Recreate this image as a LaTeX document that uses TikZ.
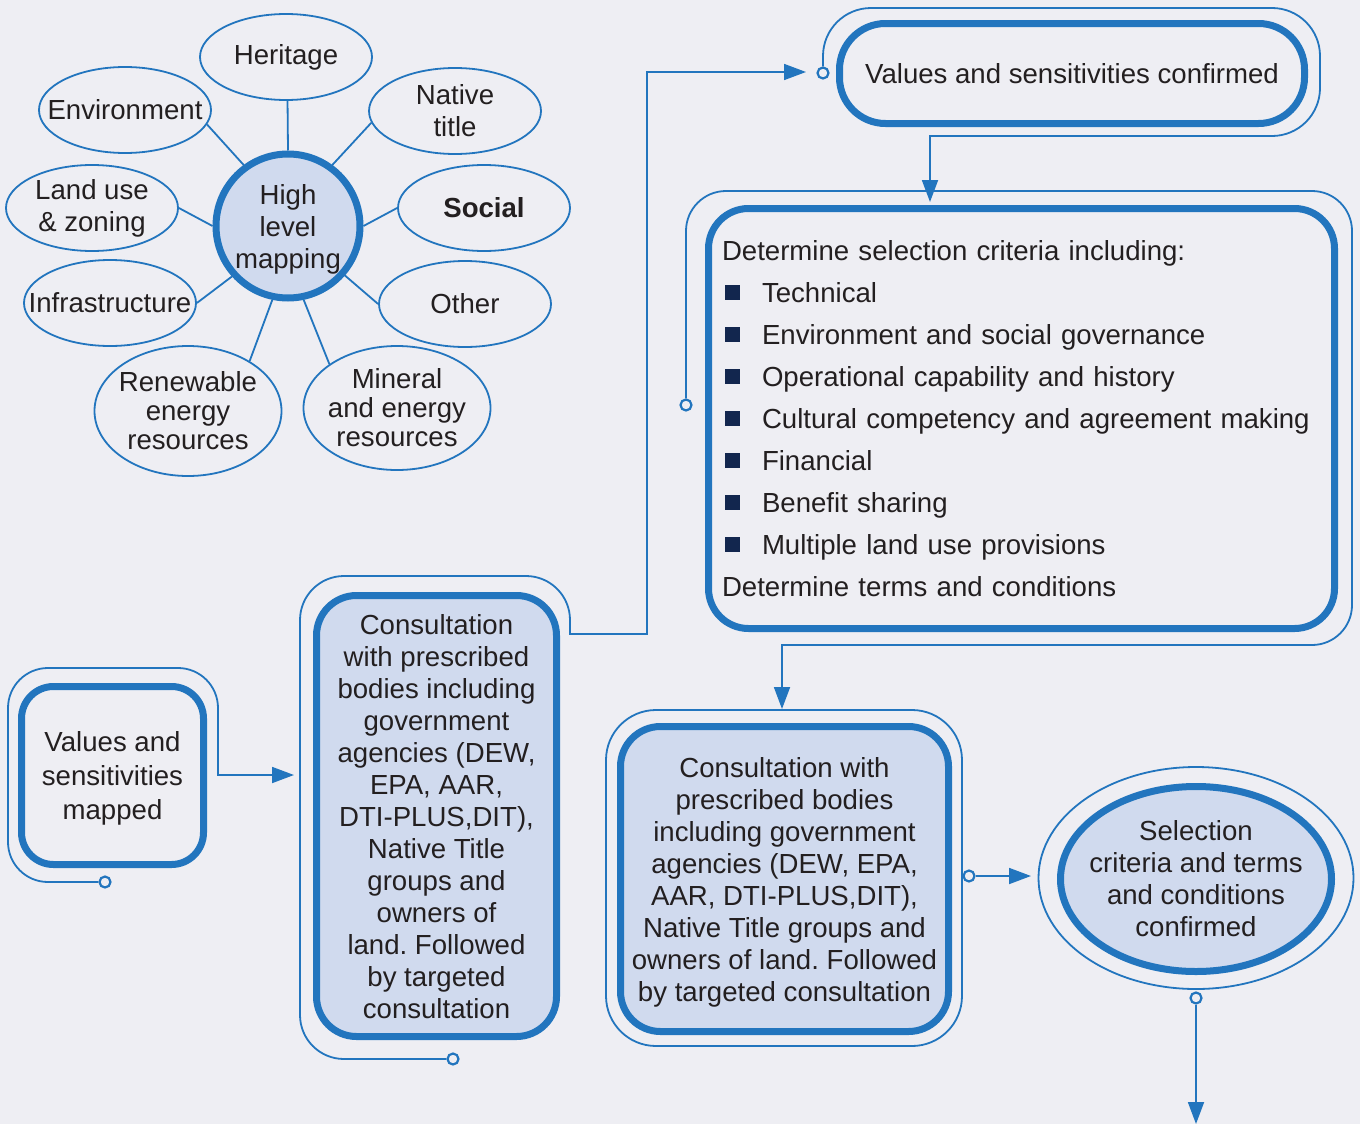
\documentclass[tikz,border=0pt]{standalone}
\usepackage{fontspec}
\setmainfont{Liberation Sans}
\usepackage{xcolor}
\usepackage{tikz}
\usetikzlibrary{arrows.meta,shapes.geometric,positioning}
\definecolor{paper}{RGB}{238,238,243}
\definecolor{brand}{RGB}{34,117,190}
\definecolor{pale}{RGB}{208,218,238}
\definecolor{ink}{RGB}{35,31,32}
\definecolor{navy}{RGB}{18,38,78}
\tikzset{
  every node/.style={text=ink, font=\fontsize{13.8}{16}\selectfont},
  hub/.style={circle, draw=brand, line width=3.5pt, fill=pale, minimum size=72pt, inner sep=0pt, align=center, text depth=0pt},
  leaf/.style={ellipse, draw=brand, line width=0.9pt, inner sep=-30pt, minimum width=86pt, minimum height=43pt, align=center},
  spoke/.style={draw=brand, line width=0.9pt},
  stage/.style={rectangle, rounded corners=20pt, draw=brand, line width=3.5pt, align=center, inner sep=0pt},
  flat/.style={text depth=0pt},
  stageoval/.style={ellipse, draw=brand, line width=3.5pt, inner sep=-20pt, align=center},
  shaded/.style={fill=pale},
  halo/.style={draw=brand, line width=0.9pt},
  port/.style={circle, draw=brand, line width=1.1pt, fill=paper, minimum size=5.5pt, inner sep=0pt},
  wire/.style={draw=brand, line width=0.9pt, -{Triangle[length=11pt,width=8pt]}}
}
\newcommand{\critem}[1]{\makebox[20pt][l]{\hspace{1.5pt}\textcolor{navy}{\rule[1pt]{7.5pt}{7.5pt}}}#1}

\begin{document}
\frenchspacing
\begin{tikzpicture}[x=0.5pt, y=-0.5pt]
  \fill[paper] (0,0) rectangle (1360,1124);
  \useasboundingbox (0,0) rectangle (1360,1124);

  % mind map of values
  \node[hub] (hlm) at (288,226) {High\\level\\mapping};
  \foreach \nm/\cx/\cy/\ha/\la/\txt in {
      heritage/286/57/90/-88/Heritage,
      envir/125/110/126/-10/Environment,
      native/455/111/54/-172/{Native\\title},
      landuse/92/208/180/0/{Land use\\\& zoning},
      social/484/208/0/180/{\textbf{Social}},
      infra/110/303/222/0/Infrastructure,
      other/465/304/-41/180/Other}{
    \node[leaf] (\nm) at (\cx,\cy) {\txt};
    \draw[spoke] (hlm.\ha) -- (\nm.\la);
  }
  \node[leaf, minimum width=93.5pt, minimum height=65pt, font=\fontsize{13.8}{14.5}\selectfont] (renew) at (188,411) {Renewable\\energy\\resources};
  \node[leaf, minimum width=93.5pt, minimum height=62pt, font=\fontsize{13.8}{14.5}\selectfont] (mineral) at (397,408) {Mineral\\and energy\\resources};
  \draw[spoke] (hlm.258) -- (renew.39);
  \draw[spoke] (hlm.282) -- (mineral.147);

  % process stages
  \node[stage, flat, rounded corners=16pt, minimum width=91pt, minimum height=89pt,
        font=\fontsize{13.8}{17}\selectfont] (vsm) at (112.5,775.5) {Values and\\sensitivities\\mapped};
  \node[stage, flat, shaded, minimum width=120pt, minimum height=220.5pt] (cons1) at (436.5,816)
    {Consultation\\with prescribed\\bodies including\\government\\agencies (DEW,\\EPA, AAR,\\DTI-PLUS,DIT),\\Native Title\\groups and\\owners of\\land. Followed\\by targeted\\consultation};
  \node[stage, rounded corners=23pt, minimum width=232.5pt, minimum height=50pt] (vsc) at (1072,73.5)
    {Values and sensitivities confirmed};
  \node[stage, minimum width=313pt, minimum height=210pt, text width=299.5pt, inner xsep=6.75pt,
        align=left, font=\fontsize{13.8}{21}\selectfont] (crit) at (1021.5,418.5)
    {Determine selection criteria including:\\
     \critem{Technical}\\
     \critem{Environment and social governance}\\
     \critem{Operational capability and history}\\
     \critem{Cultural competency and agreement making}\\
     \critem{Financial}\\
     \critem{Benefit sharing}\\
     \critem{Multiple land use provisions}\\
     Determine terms and conditions};
  \node[halo, rectangle, rounded corners=25pt, minimum width=178pt, minimum height=168pt] (cons2halo) at (784,878) {};
  \node[stage, flat, shaded, minimum width=164pt, minimum height=152.5pt] (cons2) at (784.5,879)
    {Consultation with\\prescribed bodies\\including government\\agencies (DEW, EPA,\\AAR, DTI-PLUS,DIT),\\Native Title groups and\\owners of land. Followed\\by targeted consultation};
  \node[halo, ellipse, minimum width=157.5pt, minimum height=111pt] (selhalo) at (1196,878) {};
  \node[stageoval, shaded, minimum width=135.5pt, minimum height=92.5pt] (sel) at (1196,879)
    {Selection\\criteria and terms\\and conditions\\confirmed};

  % ports and arrow ends
  \node[port] (pvsm) at (105,882) {};
  \node[port] (pcons1) at (453,1059) {};
  \node[port] (pvsc) at (823,73) {};
  \node[port] (pcrit) at (686,405) {};
  \node[port] (pcons2) at (969,876) {};
  \node[port] (psel) at (1196,998) {};
  \coordinate (into1) at (294,775);
  \coordinate (intovsc) at (806,72);
  \coordinate (intocrit) at (930,202);
  \coordinate (into2) at (782,709);
  \coordinate (intosel) at (1031,876);
  \coordinate (onward) at (1196,1124);

  % wrap-around connectors
  \draw[wire, rounded corners=20pt] (pvsm.west) -| (8,668) -- (218,668) [sharp corners] -- (218,775) -- (into1);
  \draw[wire, rounded corners=22pt] (pcons1.west) -| (300,576) -- (570,576) [sharp corners] -- (570,634) -| (647,72) -- (intovsc);
  \draw[wire, rounded corners=24pt] (pvsc.north) |- (1320,8) -- (1320,136) [sharp corners] -- (930,136) -- (intocrit);
  \draw[wire, rounded corners=20pt] (pcrit.north) |- (1352,191) -- (1352,645) [sharp corners] -- (782,645) -- (into2);
  \draw[wire] (pcons2.east) -- (intosel);
  \draw[wire] (psel.south) -- (onward);
\end{tikzpicture}
\end{document}
